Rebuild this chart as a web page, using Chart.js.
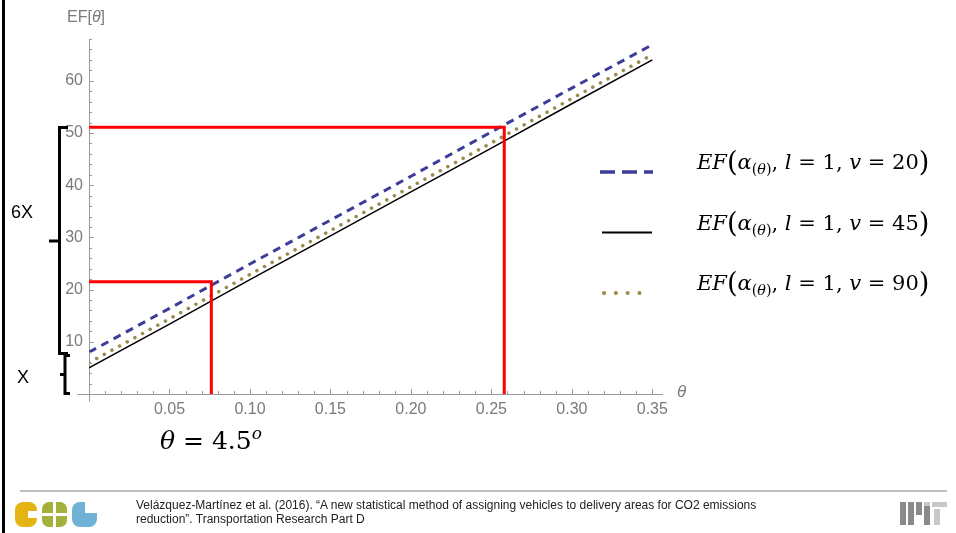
<!DOCTYPE html>
<html>
<head>
<meta charset="utf-8">
<script src="https://cdn.jsdelivr.net/npm/chart.js@4.4.1/dist/chart.umd.min.js"></script>
<style>
  body { margin: 0; width: 956px; height: 533px; overflow: hidden; background: #fff; position: relative; }
  #chart { position: absolute; left: 0; top: 0; }
  .t { position: absolute; white-space: nowrap; }
  .math { font-family: "DejaVu Serif", "Liberation Serif", serif; color: #000; }
  .math sub { font-size: 0.68em; vertical-align: -0.35em; line-height: 0; }
  .math sup { font-size: 0.68em; vertical-align: 0.6em; line-height: 0; }
  .math .p { font-size: 1.3em; font-weight: 300; vertical-align: -0.08em; line-height: 0; }
  .gray { font-family: "Liberation Sans", Arial, sans-serif; color: #7a7a7a; }
  .note { font-family: "Liberation Sans", Arial, sans-serif; color: #000; font-size: 18px; line-height: 18px; }
  .cite { font-family: "Liberation Sans", Arial, sans-serif; font-size: 12px; line-height: 14px; color: #222; }
  svg { position: absolute; left: 0; top: 0; }
</style>
</head>
<body>
<canvas id="chart" width="956" height="533"></canvas>

<svg width="956" height="533">
  <!-- borde izquierdo -->
  <line x1="3.5" y1="0" x2="3.5" y2="533" stroke="#000" stroke-width="3"/>
  <!-- llaves 6X y X -->
  <path d="M68,127.5 H59.5 V353.5 H68 M59.5,241 H49" fill="none" stroke="#000" stroke-width="3"/>
  <path d="M70,355.5 H65 V393.5 H70 M65,374.5 H60" fill="none" stroke="#000" stroke-width="3"/>
  <!-- muestras de leyenda -->
  <line x1="600" y1="172" x2="653" y2="172" stroke="#3d3d99" stroke-width="3.5" stroke-dasharray="15 7"/>
  <line x1="602" y1="232.5" x2="652" y2="232.5" stroke="#000" stroke-width="2"/>
  <line x1="604" y1="293" x2="648" y2="293" stroke="#9b8c4c" stroke-width="4" stroke-linecap="round" stroke-dasharray="0.1 11.7"/>
  <!-- pie -->
  <line x1="20" y1="491" x2="947" y2="491" stroke="#aaa" stroke-width="1.5"/>
  <!-- logo CTL -->
  <rect x="15" y="502" width="22" height="25" rx="8" fill="#e4b512"/>
  <rect x="28" y="511" width="10" height="7" fill="#fff"/>
  <rect x="42" y="502" width="25" height="25" rx="7" fill="#a3b13b"/>
  <rect x="53" y="502" width="3" height="25" fill="#fff"/>
  <rect x="42" y="513" width="25" height="3" fill="#fff"/>
  <rect x="72" y="502" width="25" height="25" rx="8" fill="#70b2d6"/>
  <rect x="85" y="502" width="12" height="11" fill="#fff"/>
  <!-- logo MIT -->
  <rect x="900" y="502" width="6" height="23" fill="#8a8a8a"/>
  <rect x="908" y="502" width="6" height="23" fill="#8a8a8a"/>
  <rect x="916" y="502" width="6" height="13" fill="#8a8a8a"/>
  <rect x="924" y="502" width="6" height="23" fill="#8a8a8a"/>
  <rect x="932" y="502" width="15" height="5" fill="#c8c8c8"/>
  <rect x="934" y="509" width="6" height="16" fill="#c8c8c8"/>
  <rect x="924" y="502" width="6" height="4" fill="#c8c8c8"/>
</svg>

<div class="t gray" style="left:67px; top:8px; font-size:16px; line-height:18px;">EF[<i>θ</i>]</div>
<div class="t gray" style="left:677px; top:383px; font-size:17px; line-height:18px;"><i>θ</i></div>

<div class="t note" style="left:11px; top:203px;">6X</div>
<div class="t note" style="left:17px; top:368px;">X</div>

<div class="t math" style="left:160px; top:428px; font-size:25px; line-height:26px;"><i>θ</i> = 4.5<sup><i>o</i></sup></div>

<div class="t math" style="left:697px; top:151px; font-size:21px; line-height:22px;"><i>EF</i><span class="p">(</span><i>α</i><sub>(<i>θ</i>)</sub>, <i>l</i> = 1, <i>v</i> = 20<span class="p">)</span></div>
<div class="t math" style="left:697px; top:212px; font-size:21px; line-height:22px;"><i>EF</i><span class="p">(</span><i>α</i><sub>(<i>θ</i>)</sub>, <i>l</i> = 1, <i>v</i> = 45<span class="p">)</span></div>
<div class="t math" style="left:697px; top:272px; font-size:21px; line-height:22px;"><i>EF</i><span class="p">(</span><i>α</i><sub>(<i>θ</i>)</sub>, <i>l</i> = 1, <i>v</i> = 90<span class="p">)</span></div>

<div class="t cite" style="left:136px; top:498px;">Velázquez-Martínez et al. (2016). “A new statistical method of assigning vehicles to delivery areas for CO2 emissions</div>
<div class="t cite" style="left:136px; top:512px;">reduction”. Transportation Research Part D</div>

<script>
// valores de theta
var thetaValues = [0, 0.05, 0.10, 0.15, 0.20, 0.25, 0.30, 0.35];

// EF para cada velocidad
var efV20 = [8.0, 16.4, 24.9, 33.3, 41.7, 50.2, 58.6, 66.9];
var efV45 = [5.0, 13.4, 21.9, 30.3, 38.7, 47.1, 55.6, 64.0];
var efV90 = [6.0, 14.4, 22.9, 31.3, 39.7, 48.1, 56.6, 65.0];

// lineas guia rojas
var guideTheta = [0.076, 0.258];
var guideEF = [21.5, 51.1];

// etiquetas de los ejes
var xTickLabels = ['0.05', '0.10', '0.15', '0.20', '0.25', '0.30', '0.35'];
var yTickLabels = ['10', '20', '30', '40', '50', '60'];

var axisColor = '#9a9a9a';

function toPoints(xs, ys) {
  return xs.map(function (x, i) { return { x: x, y: ys[i] }; });
}

function guidePoints(i) {
  return [
    { x: 0, y: guideEF[i] },
    { x: guideTheta[i], y: guideEF[i] },
    { x: guideTheta[i], y: 0 }
  ];
}

// marcas de los ejes (mayores y menores), hacia adentro
var tickMarks = {
  id: 'tickMarks',
  afterDraw: function (chart) {
    var ctx = chart.ctx;
    var x = chart.scales.x, y = chart.scales.y;
    var area = chart.chartArea;
    ctx.save();
    ctx.strokeStyle = axisColor;
    ctx.lineWidth = 1;
    ctx.beginPath();
    for (var i = 0; i <= 35; i++) {
      var px = Math.round(x.getPixelForValue(i / 100)) + 0.5;
      var len = i % 5 === 0 ? 5 : 3;
      ctx.moveTo(px, area.bottom);
      ctx.lineTo(px, area.bottom - len);
    }
    for (var j = 0; j <= 68; j += 2) {
      var py = Math.round(y.getPixelForValue(j)) + 0.5;
      var l = j % 10 === 0 ? 5 : 3;
      ctx.moveTo(area.left, py);
      ctx.lineTo(area.left + l, py);
    }
    // los ejes se cruzan un poco
    var ax = Math.round(area.left) + 0.5, ay = Math.round(area.bottom) + 0.5;
    ctx.moveTo(ax, ay);
    ctx.lineTo(ax, ay + 7);
    ctx.moveTo(ax - 12, ay);
    ctx.lineTo(ax, ay);
    ctx.stroke();
    ctx.restore();
  }
};

var ctx = document.getElementById('chart').getContext('2d');
var myChart = new Chart(ctx, {
  type: 'scatter',
  data: {
    datasets: [
      { label: 'guia1', data: guidePoints(0), showLine: true, borderColor: '#ff0000', borderWidth: 3, pointRadius: 0, borderJoinStyle: 'miter' },
      { label: 'guia2', data: guidePoints(1), showLine: true, borderColor: '#ff0000', borderWidth: 3, pointRadius: 0, borderJoinStyle: 'miter' },
      { label: 'v = 20', data: toPoints(thetaValues, efV20), showLine: true, borderColor: '#3d3d99', borderWidth: 3, borderDash: [8, 6], pointRadius: 0 },
      { label: 'v = 90', data: toPoints(thetaValues, efV90), showLine: true, borderColor: '#9b8c4c', borderWidth: 3.5, borderDash: [0.1, 8.6], borderCapStyle: 'round', pointRadius: 0 },
      { label: 'v = 45', data: toPoints(thetaValues, efV45), showLine: true, borderColor: '#000000', borderWidth: 1.5, pointRadius: 0 }
    ]
  },
  options: {
    responsive: false,
    animation: false,
    devicePixelRatio: 1,
    layout: { padding: { left: 0, top: 39, right: 294, bottom: 109 } },
    plugins: { legend: { display: false }, tooltip: { enabled: false } },
    scales: {
      x: {
        type: 'linear',
        min: 0,
        max: 0.356,
        grid: { display: false, drawTicks: false },
        border: { display: true, color: axisColor, width: 1 },
        ticks: {
          stepSize: 0.05,
          includeBounds: false,
          padding: 6,
          color: '#7a7a7a',
          font: { family: 'Liberation Sans, Arial, sans-serif', size: 16 },
          maxRotation: 0,
          autoSkip: false,
          callback: function (v) {
            var k = Math.round(v / 0.05);
            return k >= 1 ? xTickLabels[k - 1] : '';
          }
        },
        afterFit: function (scale) { scale.height = 30; }
      },
      y: {
        type: 'linear',
        min: 0,
        max: 68,
        grid: { display: false, drawTicks: false },
        border: { display: true, color: axisColor, width: 1 },
        ticks: {
          stepSize: 10,
          includeBounds: false,
          padding: 6,
          color: '#7a7a7a',
          font: { family: 'Liberation Sans, Arial, sans-serif', size: 16 },
          callback: function (v) {
            var k = Math.round(v / 10);
            return k >= 1 ? yTickLabels[k - 1] : '';
          }
        },
        afterFit: function (scale) { scale.width = 89; }
      }
    }
  },
  plugins: [tickMarks]
});
</script>
</body>
</html>
